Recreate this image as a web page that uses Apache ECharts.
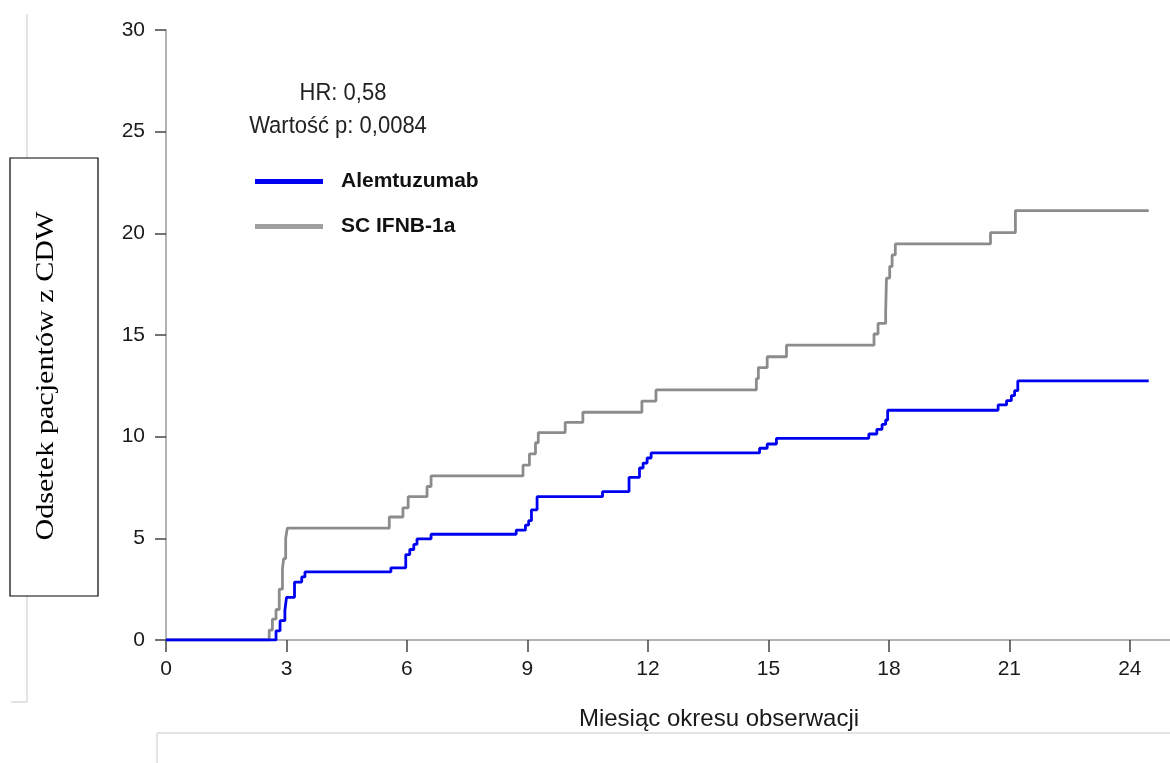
<!DOCTYPE html>
<html>
<head>
<meta charset="utf-8">
<script src="https://cdn.jsdelivr.net/npm/echarts@6/dist/echarts.min.js"></script>
<style>html,body{margin:0;padding:0;background:#fff;}#c{width:1170px;height:763px;}</style>
</head>
<body>
<div id="c"></div>
<script>
const seriesNames = ['Alemtuzumab', 'SC IFNB-1a'];
const xTicks = [0, 3, 6, 9, 12, 15, 18, 21, 24];
const yTicks = [0, 5, 10, 15, 20, 25, 30];
const alemtuzumab = [
  [0,0],[2.74,0.45],[2.84,0.95],[2.96,1.45],[3.0,2.1],[3.2,2.85],[3.38,3.1],[3.46,3.35],
  [5.6,3.55],[5.97,4.2],[6.07,4.45],[6.17,4.7],[6.25,4.97],[6.6,5.2],
  [8.72,5.4],[8.95,5.65],[9.03,5.87],[9.1,6.4],[9.24,7.05],
  [10.87,7.3],[11.53,8.0],[11.79,8.46],[11.88,8.7],[11.98,8.95],[12.08,9.2],
  [14.78,9.43],[14.97,9.64],[15.2,9.92],
  [17.5,10.13],[17.7,10.36],[17.83,10.6],[17.92,10.82],[17.97,11.3],
  [20.72,11.56],[20.93,11.77],[21.05,12.02],[21.13,12.26],[21.21,12.74],[24.47,12.74]
];
const ifnb = [
  [0,0],[2.57,0.49],[2.65,1.03],[2.74,1.5],[2.82,2.5],[2.9,3.5],[2.93,4.0],[2.98,5.0],[3.02,5.5],
  [5.56,6.05],[5.9,6.5],[6.03,7.05],[6.5,7.55],[6.6,8.07],
  [8.89,8.6],[9.05,9.15],[9.2,9.7],[9.27,10.2],[9.94,10.7],[10.38,11.2],
  [11.85,11.75],[12.2,12.3],
  [14.7,12.85],[14.75,13.4],[14.97,13.93],[15.45,14.5],
  [17.63,15.05],[17.73,15.57],[17.92,16.15],[17.94,17.8],[18.02,18.37],[18.08,18.94],[18.16,19.48],
  [20.53,20.03],[21.15,21.12],[24.47,21.12]
];
const annotations = ['HR: 0,58', 'Wartość p: 0,0084'];
const yAxisTitle = 'Odsetek pacjentów z CDW';
const xAxisTitle = 'Miesiąc okresu obserwacji';

const chart = echarts.init(document.getElementById('c'), null, {renderer: 'canvas'});
const font = 'Liberation Sans, Arial, sans-serif';
chart.setOption({
  animation: false,
  backgroundColor: '#ffffff',
  grid: {left: 166, right: 0, top: 30, bottom: 123, containLabel: false},
  xAxis: {
    type: 'value', min: 0, max: 25,
    axisLine: {show: true, lineStyle: {color: '#9a9a9a', width: 1.5}},
    axisTick: {show: true, length: 12, customValues: xTicks, lineStyle: {color: '#444', width: 1.5}},
    axisLabel: {customValues: xTicks, margin: 19, fontFamily: font, fontSize: 21, color: '#1a1a1a'},
    splitLine: {show: false},
    name: xAxisTitle, nameLocation: 'middle', nameGap: 67,
    nameTextStyle: {fontFamily: font, fontSize: 24, color: '#1a1a1a', padding: [0, 0, 0, 102]}
  },
  yAxis: {
    type: 'value', min: 0, max: 30, interval: 5,
    axisLine: {show: true, lineStyle: {color: '#9a9a9a', width: 1.5}},
    axisTick: {show: true, length: 11, lineStyle: {color: '#444', width: 1.5}},
    axisLabel: {margin: 21, fontFamily: font, fontSize: 21, color: '#1a1a1a',
      formatter: v => yTicks.includes(v) ? String(v) : ''},
    splitLine: {show: false}
  },
  legend: {
    orient: 'vertical', left: 255, top: 171, padding: 0, itemWidth: 68, itemHeight: 5, itemGap: 24,
    icon: 'rect',
    textStyle: {fontFamily: font, fontSize: 21, fontWeight: 'bold', color: '#111', padding: [5, 0, 0, 13]},
    data: [
      {name: seriesNames[0], itemStyle: {color: '#0000f0'}},
      {name: seriesNames[1], itemStyle: {color: '#a0a0a0'}}
    ]
  },
  series: [
    {name: seriesNames[1], type: 'line', step: 'end', data: ifnb, showSymbol: false, symbol: 'none',
      lineStyle: {color: '#8c8c8c', width: 2.8}, itemStyle: {color: '#a0a0a0'}, z: 2},
    {name: seriesNames[0], type: 'line', step: 'end', data: alemtuzumab, showSymbol: false, symbol: 'none',
      lineStyle: {color: '#0000f0', width: 2.8}, itemStyle: {color: '#0000f0'}, z: 3}
  ],
  graphic: [
    {type: 'text', x: 343, y: 93, scaleY: 1.12, style: {text: annotations[0], x: 0, y: 0, align: 'center', verticalAlign: 'middle', font: '22px ' + font, fill: '#222'}},
    {type: 'text', x: 338, y: 126, scaleY: 1.12, style: {text: annotations[1], x: 0, y: 0, align: 'center', verticalAlign: 'middle', font: '22px ' + font, fill: '#222'}},
    {type: 'line', shape: {x1: 27, y1: 14, x2: 27, y2: 158}, style: {stroke: '#c8c8c8', lineWidth: 1}},
    {type: 'line', shape: {x1: 27, y1: 596, x2: 27, y2: 702}, style: {stroke: '#c8c8c8', lineWidth: 1}},
    {type: 'line', shape: {x1: 11, y1: 702, x2: 27, y2: 702}, style: {stroke: '#c8c8c8', lineWidth: 1}},
    {type: 'line', shape: {x1: 157, y1: 733, x2: 1170, y2: 733}, style: {stroke: '#c8c8c8', lineWidth: 1}},
    {type: 'line', shape: {x1: 157, y1: 733, x2: 157, y2: 763}, style: {stroke: '#c8c8c8', lineWidth: 1}},
    {type: 'rect', shape: {x: 10, y: 158, width: 88, height: 438}, style: {fill: '#fff', stroke: '#000', lineWidth: 1.2}},
    {type: 'text', x: 46, y: 376, rotation: Math.PI / 2, scaleX: 1.16,
      style: {text: yAxisTitle, x: 0, y: 0, align: 'center', verticalAlign: 'middle',
        font: '26px Liberation Serif, Times New Roman, serif', fill: '#000'}}
  ]
});
</script>
</body>
</html>
